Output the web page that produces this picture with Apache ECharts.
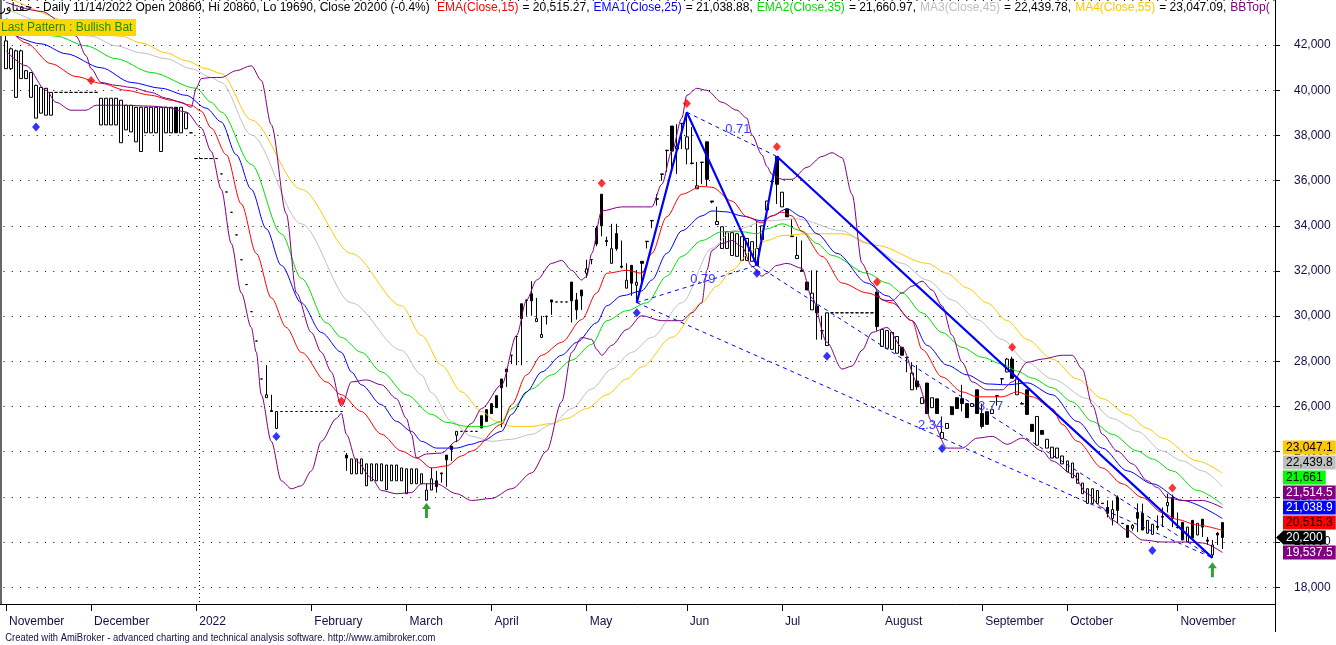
<!DOCTYPE html>
<html>
<head>
<meta charset="utf-8">
<title>خفناور - Daily</title>
<script src="https://cdn.jsdelivr.net/npm/echarts/dist/echarts.min.js"></script>
<style>
html,body{margin:0;padding:0;background:#ffffff;}
#chart{width:1336px;height:645px;}
</style>
</head>
<body>
<div id="chart"></div>
<script>
// ================= DATA =================
const slotCount = 254;               // bar slots on the x axis (incl. right blank space)
const monthStarts = [0,17,38,61,80,97,116,136,155,175,195,212,234];
const monthLabels = ['November','December','2022','February','March','April','May','Jun','Jul','August','September','October','November'];
const yearBreak = 39;
const yTickStep = 2000;

const opens = [
40960,40960,39690,40520,40520,39690,38770,38990,38900,38900,
39910,39910,39910,39910,39910,39910,39910,39910,39910,38470,
38470,38470,38470,37680,38250,38160,37720,37290,38120,38120,
38120,37290,38120,38120,39250,38120,38300,38120,36980,36980,
36980,36980,36980,36300,35500,34600,33600,32500,31400,30200,
28900,27220,26390,25820,25030,25780,25780,25780,25780,25780,
25780,25780,25780,25780,25780,25780,25780,25780,23850,23020,
23020,23020,22490,22710,22710,22710,22320,22710,22710,22710,
22140,22580,22580,22580,21850,22300,22710,23060,23850,24250,
24730,24900,24900,24900,24900,25590,25860,26130,26480,27220,
27660,28270,29100,30550,30720,30990,29760,29060,29980,30720,
30630,30630,30630,31510,30720,31160,31900,32500,33900,35400,
33350,32340,33660,32210,31240,32250,31370,32430,33300,34220,
35180,36280,37330,38420,37400,38530,37400,36780,35640,36820,
37720,35100,34060,33000,33000,32690,32650,32470,32470,32430,
32250,33390,34700,35980,37070,34840,34750,33550,32550,32030,
31510,30280,30450,29360,28700,30150,30150,30150,30150,30150,
30150,30150,30150,30150,31070,28660,28580,28530,28360,28620,
28180,26740,27130,26130,27040,25950,26340,24590,25030,25990,
26390,26350,26130,26000,26740,25690,25770,25690,26480,27230,
27530,28100,26520,26130,26740,25210,24290,24940,24160,23720,
23720,23460,23110,22840,22600,22140,21710,21710,21710,21720,
21530,21050,21970,20830,20740,20610,21310,21270,20390,20340,
20700,21130,21610,21970,20660,20870,20000,20960,20310,21010,
20090,19430,20390,20860];

const closes = [
42190,41840,41750,41750,40870,40790,40220,40130,40090,39910,
39910,39910,39910,39910,39910,39910,39910,39910,39910,39650,
39650,39650,39650,39560,39340,39340,39250,39250,39250,39250,
39250,39250,39250,39250,38120,39250,39000,38120,36980,36980,
36980,36980,36980,36300,35500,34600,33600,32500,31400,30200,
28900,27220,26520,25780,25780,25780,25780,25780,25780,25780,
25780,25780,25780,25780,25780,25780,25780,25780,23720,23680,
23680,23680,23460,23460,23460,23460,23410,23410,23410,23280,
23240,23240,23240,23020,22300,22800,22450,23020,23640,24090,
24900,24900,24900,24900,24900,25050,25340,25690,25950,26830,
27530,28270,29100,29890,30700,30680,29890,29190,30000,30630,
30630,30630,30630,30680,30280,30900,32100,32510,33200,34000,
33300,32990,32990,32170,31590,31460,31500,32340,33320,34240,
35200,36300,37350,37310,37530,38540,37940,36760,35770,36810,
36060,35060,34190,33960,33740,33700,33650,33520,33440,33300,
33000,34000,35100,35960,35840,35490,34400,33520,32690,31990,
31160,31020,30150,29350,30150,30150,30150,30150,30150,30150,
30150,30150,30150,30150,29540,29410,29360,29280,29100,28270,
28170,27480,26870,26390,25690,26390,25690,24850,25250,25640,
25910,26130,25510,26130,25690,25120,25210,25860,26470,27220,
28100,27250,27220,26110,25650,24900,25560,24770,24550,24200,
24160,23810,23590,23500,23050,22610,22360,22360,22280,21700,
21270,21440,21400,20820,20210,20740,21050,20530,20960,20790,
20650,21100,21750,21050,20640,20090,20660,20180,20830,20660,
20040,19870,20310,20200];

const lows = [
40960,40900,39690,40520,40520,39690,38770,38990,38900,38900,
39910,39910,39910,39910,39910,39910,39910,39910,39910,38470,
38470,38470,38470,37680,38250,38160,37720,37290,38120,38120,
38120,37290,38120,38120,38120,38120,38300,38120,36980,36980,
36980,36980,36980,36300,35500,34600,33600,32500,31400,30200,
28900,27220,26390,25780,25030,25780,25780,25780,25780,25780,
25780,25780,25780,25780,25780,25780,25780,25780,23150,23020,
23020,23020,22490,22710,22710,22710,22320,22710,22710,22710,
22140,22580,22580,22580,21850,22300,22190,22630,22450,23590,
24420,24900,24900,24900,24900,25050,25340,25690,25950,25080,
26870,27880,27830,27830,30020,30020,29760,29060,29630,30060,
30630,30630,30630,29720,29850,30280,31700,32300,33100,33540,
33100,32340,32900,32120,31240,30900,30600,31460,33000,33900,
34900,36000,36390,36520,36300,37400,36720,36720,35640,35850,
35760,35000,34060,33000,33000,32690,32650,32470,32470,32430,
32250,33390,34600,35900,34970,34840,34400,33520,32550,31990,
31160,30280,28960,28960,28700,30150,30150,30150,30150,30150,
30150,30150,30150,30150,29360,28660,28580,28530,28360,28270,
27520,26740,26740,26130,25690,25950,25690,24590,25030,25640,
25910,25780,25510,26000,25690,25030,25210,25690,26040,27000,
27530,27250,26520,26110,25650,24900,24290,24770,24160,23720,
23720,23460,23110,22840,22600,22140,21710,21710,21710,21700,
21090,20740,20830,20820,20210,20500,20440,20530,20390,20340,
20520,20660,21310,20660,20600,20090,20000,20180,20310,20220,
19870,19300,19870,19690];

const highs = [
42400,41900,41800,41800,40900,40800,40250,40150,40100,39910,
39910,39910,39910,39910,39910,39910,39910,39910,39910,39650,
39650,39650,39650,39560,39340,39340,39250,39250,39250,39250,
39250,39250,39250,39250,39250,39250,39000,38120,36980,36980,
36980,36980,36980,36300,35500,34600,33600,32500,31400,30200,
28900,27220,27830,26520,25780,25780,25780,25780,25780,25780,
25780,25780,25780,25780,25780,25780,25780,25780,23940,23680,
23680,23680,23460,23460,23460,23460,23410,23410,23410,23280,
23240,23240,23240,23020,22600,23300,23150,23060,23850,24250,
24900,24900,24900,24900,24900,25590,25860,26130,26480,27220,
27660,28270,29100,30550,30720,31550,30810,30020,30020,30720,
30630,30630,30630,31510,31030,31160,32500,32510,34000,35400,
33520,34090,34090,33350,32340,32250,32040,32430,33320,34240,
35400,36300,37350,38420,38500,38540,39030,38370,36830,36820,
37720,35100,34850,33960,33740,33700,33650,33520,33440,33300,
34220,34000,35100,36000,37070,35490,34750,34310,33520,33350,
31510,32030,32030,30020,30150,30150,30150,30150,30150,30150,
30150,30150,30150,30150,31070,29410,29360,29280,29100,28620,
28180,27960,27830,26390,27040,26390,26340,25560,25250,25990,
26390,26960,26130,26130,26740,26130,25770,25860,26480,27230,
28150,28200,27220,26200,26740,25210,25560,24940,24550,24200,
24160,23810,23590,23500,23050,22610,22360,22360,22280,21720,
21840,21840,22060,20830,20740,20800,21710,21700,20960,20790,
21180,21530,22140,22100,21310,20870,20660,20960,20830,21010,
20220,20090,20440,20860];

// indicator lines: [barIndex, value]
const ema15 = [[0,42930],[4,42100],[9,41180],[14,40610],[19,40310],[24,40000],[29,39780],[33,39560],[37,39340],[39,39080],[41,38330],[44,37150],[47,34970],[50,32780],[53,30810],[56,29500],[59,28400],[64,27090],[67,26520],[71,25780],[75,24770],[79,24030],[82,23720],[85,23280],[88,23370],[91,23810],[93,24030],[99,25210],[101,26080],[104,27400],[107,28270],[111,28840],[115,29850],[118,31030],[120,31900],[124,32030],[127,31900],[129,32780],[132,34400],[135,35400],[139,35750],[141,35710],[145,35100],[148,34400],[151,34130],[153,34440],[155,34610],[157,34440],[159,33740],[163,32650],[167,31470],[172,31030],[177,30590],[181,29800],[183,28530],[187,27310],[191,26650],[194,26430],[199,26430],[202,26650],[205,26430],[209,25910],[211,25210],[214,24460],[219,23280],[223,22580],[227,21970],[231,21300],[234,21000],[238,20750],[243,20515.27]];
const ema25 = [[0,42620],[7,42060],[12,41620],[19,41000],[25,40350],[31,40090],[36,39780],[40,39210],[43,38600],[46,37150],[49,35620],[52,33870],[55,32250],[59,30590],[63,29280],[67,28400],[69,27530],[71,26960],[75,26080],[78,25340],[81,24900],[83,24460],[86,24160],[90,24160],[93,24330],[95,24460],[99,24900],[101,25650],[104,26650],[107,27530],[111,28270],[114,28840],[118,29710],[120,30460],[123,30900],[127,31120],[129,31600],[132,32780],[135,33780],[139,34440],[141,34660],[144,34620],[147,34440],[151,34220],[153,34440],[156,34750],[159,34400],[162,33650],[166,32780],[172,31470],[176,30900],[181,29800],[184,28710],[188,27830],[192,27400],[196,27000],[200,26960],[204,27050],[209,26520],[214,25340],[219,24160],[224,23150],[229,22580],[235,21840],[243,21038.88]];
const ema35 = [[0,43190],[10,42400],[16,41970],[22,41400],[29,40790],[38,40090],[41,39470],[43,39040],[49,36720],[55,33650],[59,31680],[64,29710],[67,29060],[71,28400],[75,27530],[80,26520],[85,25650],[88,25300],[92,25120],[96,25120],[99,25340],[101,25910],[105,26780],[109,27400],[113,28050],[117,28750],[120,29800],[124,30240],[128,30590],[132,31770],[135,32650],[139,33350],[143,33740],[147,33740],[150,33650],[152,33870],[155,34090],[159,33780],[162,33220],[165,32690],[172,31900],[176,31470],[179,31030],[183,30150],[187,29280],[191,28620],[195,28180],[199,27880],[202,27570],[205,27260],[209,26830],[213,26210],[217,25340],[221,24770],[226,24030],[229,23680],[233,23150],[238,22280],[243,21660.97]];
const ma45 = [[0,43630],[17,42400],[22,41970],[27,41660],[32,41400],[37,40960],[41,40570],[43,40350],[49,38030],[59,34090],[69,30590],[79,28490],[83,27400],[85,26610],[89,25340],[93,24680],[97,24460],[101,24550],[105,24770],[109,25210],[113,25910],[117,26780],[121,27660],[125,28400],[129,29060],[135,30590],[141,33000],[145,33780],[152,34220],[158,34310],[167,33780],[172,33220],[179,32340],[184,31600],[189,30720],[194,29850],[199,28970],[204,27960],[209,27220],[216,26350],[221,25470],[226,24900],[231,24030],[235,23590],[239,23150],[243,22439.78]];
const ma55 = [[0,44160],[23,42400],[27,42100],[32,41660],[36,41310],[40,40960],[43,40740],[49,38690],[59,35620],[69,32780],[79,30460],[83,29150],[87,27830],[91,26650],[95,25780],[98,25340],[101,25120],[105,25120],[109,25250],[112,25470],[116,25910],[120,26520],[124,27220],[127,27750],[133,29060],[139,30590],[142,31330],[145,32030],[149,32910],[152,33350],[155,33570],[160,33650],[167,33650],[174,33130],[184,32340],[188,31900],[192,31250],[196,30590],[200,29800],[204,28970],[209,28100],[214,27220],[219,26350],[224,25650],[228,25030],[231,24600],[238,23590],[243,23047.09]];
const bbTop = [[0,43900],[7,43500],[12,42900],[14,42400],[16,41530],[17,40960],[19,40350],[22,40220],[25,40130],[29,39910],[32,39650],[35,39470],[37,39250],[38,40090],[39,40520],[41,40570],[43,40570],[46,40870],[49,41090],[51,40440],[53,38470],[56,34530],[58,31030],[61,29280],[63,28400],[65,27530],[67,26000],[69,27090],[72,27180],[75,26960],[78,26350],[80,25470],[81,24770],[82,23720],[84,23900],[87,23940],[90,24460],[93,25250],[95,25910],[99,26960],[102,29150],[104,30720],[106,31600],[109,32340],[111,32470],[113,32030],[115,31600],[116,31770],[117,32780],[119,34660],[123,34840],[129,34840],[131,35840],[133,37290],[135,38770],[136,39780],[138,40090],[140,40000],[143,39470],[146,39120],[148,38770],[149,38030],[151,37150],[152,36630],[153,36280],[155,36060],[157,36060],[160,36590],[163,37070],[165,37240],[167,37020],[169,35400],[171,32340],[173,31470],[175,30720],[177,30680],[179,31030],[181,31330],[183,31550],[185,31160],[187,30460],[189,29150],[191,27960],[193,27090],[196,26740],[199,26740],[201,27090],[204,27960],[207,28100],[211,28270],[213,28270],[215,27660],[217,26080],[219,24770],[222,24030],[225,23460],[228,22710],[230,22410],[232,21970],[235,21840],[239,21840],[243,21514.5]];
const bbBot = [[0,41750],[4,41090],[8,40000],[10,39470],[13,39120],[16,39120],[18,39340],[23,39340],[29,39300],[32,39250],[36,39040],[39,38340],[41,37290],[43,35620],[45,33220],[47,31030],[49,29500],[50,28400],[51,26520],[53,24460],[55,22710],[57,22360],[59,22490],[61,23150],[63,24460],[66,25470],[67,25700],[68,24770],[70,23590],[73,22840],[75,22280],[78,22140],[81,22190],[83,22580],[86,22580],[90,22140],[93,21840],[97,21930],[101,22360],[105,23060],[108,24030],[111,26210],[113,28400],[115,29060],[117,28970],[118,28530],[119,28270],[121,28710],[124,29410],[127,30020],[131,29800],[135,29800],[137,30150],[139,30590],[140,32030],[141,32910],[143,33220],[145,33350],[147,33080],[149,32210],[151,31770],[152,31900],[154,32250],[156,32340],[159,32120],[161,30810],[164,28840],[167,27660],[169,27790],[171,28490],[173,29280],[176,29500],[179,28620],[182,27090],[185,25340],[188,24160],[191,24160],[194,24600],[197,24680],[200,24330],[203,24600],[207,24030],[209,23590],[213,23020],[216,22140],[219,21530],[221,20960],[224,20530],[227,20090],[231,20000],[236,20000],[239,19960],[243,19537.5]];

// harmonic pattern (X, A, B, C, D)
const patternBars   = [126, 136, 150, 154, 241];
const patternPrices = [30600, 39030, 32250, 37070, 19300];
const ratioLinks  = [[0,2],[1,3],[0,4],[2,4]];
const ratioLabels = ['0.79','0.71','2.34','3.77'];

// markers
const swingHighs = [[17,40440],[67,26250],[119,35890],[136,39420],[154,37500],[174,31510],[201,28620],[233,22390]];
const swingLows  = [[6,38380],[54,24670],[126,30150],[150,31900],[164,28230],[187,24140],[229,19630]];
const buyArrows  = [[84,21400],[241,18775]];

const lastClose = 20200;

// header pieces: [colour key, text]
const headerParts = [
  ['k', 'خفناور - Daily 11/14/2022 Open 20860, Hi 20860, Lo 19690, Close 20200 (-0.4%) '],
  ['r', 'EMA(Close,15)'], ['k', ' = 20,515.27, '],
  ['b', 'EMA1(Close,25)'], ['k', ' = 21,038.88, '],
  ['g', 'EMA2(Close,35)'], ['k', ' = 21,660.97, '],
  ['s', 'MA3(Close,45)'], ['k', ' = 22,439.78, '],
  ['y', 'MA4(Close,55)'], ['k', ' = 23,047.09, '],
  ['p', 'BBTop(']
];

// ================= CHART =================
const FAMILY = "'Liberation Sans', Arial, 'DejaVu Sans', sans-serif";
const categories = Array.from({length: slotCount}, (_, i) => 'b' + i);
const monthMap = {};
monthStarts.forEach((b, i) => { monthMap[b] = monthLabels[i]; });
const candleData = opens.map((o, i) => [o, closes[i], lows[i], highs[i]]);

function lineSeries(name, data, color, width) {
  return {name, type: 'line', data, symbol: 'none', smooth: 0.3, smoothMonotone: 'x',
    lineStyle: {color, width: width || 1}, z: 4, silent: true, animation: false};
}

const series = [
  {type: 'candlestick', data: candleData, barWidth: 3, z: 3, silent: true,
   itemStyle: {color: '#ffffff', color0: '#000000', borderColor: '#000000', borderColor0: '#000000', borderWidth: 1}},
  lineSeries('MA4', ma55, '#ffc800'),
  lineSeries('MA3', ma45, '#c0c0c0'),
  lineSeries('EMA2', ema35, '#00e000'),
  lineSeries('EMA1', ema25, '#0000ff'),
  lineSeries('EMA', ema15, '#ff0000'),
  lineSeries('BBTop', bbTop, '#800080'),
  lineSeries('BBBot', bbBot, '#800080'),
  {type: 'line', data: patternBars.map((b, i) => [b, patternPrices[i]]), symbol: 'none',
   lineStyle: {color: '#0000ff', width: 2.2}, z: 6, silent: true}
];
ratioLinks.forEach(([a, b]) => {
  series.push({type: 'line', symbol: 'none', z: 6, silent: true,
    data: [[patternBars[a], patternPrices[a]], [patternBars[b], patternPrices[b]]],
    lineStyle: {color: '#0000ff', width: 1, type: [4, 4]}});
});
series.push({type: 'scatter', data: swingHighs, symbol: 'diamond', symbolSize: [8, 9],
  itemStyle: {color: '#ff0000'}, z: 7, silent: true});
series.push({type: 'scatter', data: swingLows, symbol: 'diamond', symbolSize: [8, 9],
  itemStyle: {color: '#0000ff'}, z: 7, silent: true});
series.push({type: 'scatter', data: buyArrows,
  symbol: 'path://M4,0 L8,6 L5.3,6 L5.3,15 L2.7,15 L2.7,6 L0,6 Z', symbolSize: [9, 15],
  itemStyle: {color: '#008a00'}, z: 7, silent: true});

const option = {
  animation: false,
  backgroundColor: '#ffffff',
  textStyle: {fontFamily: FAMILY},
  grid: {left: 3.5, right: 61, top: -4.8, bottom: 57.8, containLabel: false},
  xAxis: {
    type: 'category', data: categories, boundaryGap: true, offset: 16.8,
    axisLine: {show: false},
    axisTick: {show: true, alignWithLabel: true, length: 7, interval: (i) => monthMap[i] !== undefined,
      lineStyle: {color: '#000000', width: 1}},
    axisLabel: {show: true, interval: (i) => monthMap[i] !== undefined,
      formatter: (v) => monthMap[+v.slice(1)] || '', align: 'left', padding: [0, 0, 0, 3], margin: 12,
      color: '#101048', fontSize: 12, fontFamily: FAMILY},
    splitLine: {show: false}
  },
  yAxis: {
    type: 'value', position: 'right', min: 18000, max: 44000, interval: yTickStep,
    axisLine: {show: false},
    axisTick: {show: true, length: 5, lineStyle: {color: '#000000'}},
    axisLabel: {margin: 19, color: '#101048', fontSize: 12, fontFamily: FAMILY, showMaxLabel: false,
      formatter: (v) => v.toLocaleString('en-US')},
    splitLine: {show: true, lineStyle: {color: '#000000', type: [1, 7.3], width: 1}}
  },
  series
};

const chart = echarts.init(document.getElementById('chart'), null, {renderer: 'canvas'});
chart.setOption(option);

// ----- overlays: header, pattern box, borders, price tags, ratio labels -----
const measureCtx = document.createElement('canvas').getContext('2d');
function measure(text, size) { measureCtx.font = size + 'px ' + FAMILY; return measureCtx.measureText(text).width; }
const headerColors = {k: '#000000', r: '#ff0000', b: '#0000ff', g: '#00e000', s: '#c0c0c0', y: '#ffc800', p: '#800080'};
const headerFull = headerParts.map(p => p[1]).join('');
const hSize = Math.round(12 * 1270 / measure(headerFull, 12));
const hGap = (1270 - measure(headerFull, hSize)) / headerFull.length;   // tiny letter-spacing fix

const footer = 'Created with AmiBroker - advanced charting and technical analysis software. http://www.amibroker.com';
const fScale = 430 / measure(footer, 10);

function overlays() {
  const els = [];
  const yearX = chart.convertToPixel({xAxisIndex: 0}, yearBreak) - 2.5;
  for (let y = 1; y < 604; y += 4) {
    els.push({type: 'rect', shape: {x: Math.round(yearX), y, width: 1, height: 1}, style: {fill: '#000'}, z: 1, silent: true});
  }
  els.push({type: 'line', shape: {x1: 1, y1: 0, x2: 1, y2: 604}, style: {stroke: '#000', lineWidth: 1.2}, z: 50});
  els.push({type: 'line', shape: {x1: 1275.5, y1: 0, x2: 1275.5, y2: 632}, style: {stroke: '#000', lineWidth: 1}, z: 50});
  els.push({type: 'line', shape: {x1: 0, y1: 604.5, x2: 1275.5, y2: 604.5}, style: {stroke: '#000', lineWidth: 1}, z: 50});

  // header: one text element per coloured run
  let hx = 0;
  headerParts.forEach(([k, t]) => {
    els.push({type: 'text', x: hx, y: 8, z: 60,
      style: {text: t, fill: headerColors[k], fontSize: hSize, fontFamily: FAMILY, verticalAlign: 'middle', align: 'left'}});
    hx += measure(t, hSize) + hGap * t.length;
  });

  els.push({type: 'rect', shape: {x: 0, y: 19, width: 136, height: 17}, style: {fill: '#ffd700'}, z: 60});
  els.push({type: 'text', x: 1, y: 27.5, z: 61,
    style: {text: 'Last Pattern : Bullish Bat', fill: '#1f8a00', fontSize: 12, fontFamily: FAMILY, verticalAlign: 'middle', align: 'left'}});
  els.push({type: 'text', x: 5, y: 638, scaleX: fScale, originX: 5, originY: 638, z: 60,
    style: {text: footer, fill: '#101048', fontSize: 10, fontFamily: FAMILY, verticalAlign: 'middle', align: 'left'}});

  ratioLinks.forEach(([a, b], i) => {
    const p1 = chart.convertToPixel({seriesIndex: 0}, [patternBars[a], patternPrices[a]]);
    const p2 = chart.convertToPixel({seriesIndex: 0}, [patternBars[b], patternPrices[b]]);
    els.push({type: 'text', x: (p1[0] + p2[0]) / 2 + 6, y: (p1[1] + p2[1]) / 2 - 5, z: 62,
      style: {text: ratioLabels[i], fill: '#3c3cff', fontSize: 13, fontFamily: FAMILY, align: 'center', verticalAlign: 'middle'}});
  });

  const tags = [
    {v: ma55[ma55.length - 1][1], bg: '#ffc800', fg: '#000'},
    {v: ma45[ma45.length - 1][1], bg: '#c0c0c0', fg: '#000'},
    {v: ema35[ema35.length - 1][1], bg: '#00ff00', fg: '#000'},
    {v: bbTop[bbTop.length - 1][1], bg: '#800080', fg: '#fff'},
    {v: ema25[ema25.length - 1][1], bg: '#0000ff', fg: '#fff'},
    {v: ema15[ema15.length - 1][1], bg: '#ff0000', fg: '#000'},
    {v: lastClose, bg: '#000000', fg: '#fff', close: true},
    {v: bbBot[bbBot.length - 1][1], bg: '#800080', fg: '#fff'}
  ];
  tags.forEach(t => { t.y = chart.convertToPixel({yAxisIndex: 0}, t.v); });
  tags.sort((a, b) => b.y - a.y);
  let prev = Infinity;
  tags.forEach(t => { t.py = Math.min(t.y, prev - 15); prev = t.py; });
  tags.forEach(t => {
    const label = t.v.toLocaleString('en-US', {maximumFractionDigits: 1});
    els.push({type: 'text', x: 1283, y: t.py, z: 70,
      style: {text: label, fill: t.fg, backgroundColor: t.bg, padding: [1, 3, 1, 3], lineHeight: 12,
        fontSize: 12, fontFamily: FAMILY, verticalAlign: 'middle', align: 'left'}});
    if (t.close) {
      els.push({type: 'polygon', shape: {points: [[1276, t.py], [1283.5, t.py - 7], [1283.5, t.py + 7]]},
        style: {fill: '#000'}, z: 70});
    }
  });
  chart.setOption({graphic: {elements: els}});
}
overlays();
</script>
</body>
</html>
